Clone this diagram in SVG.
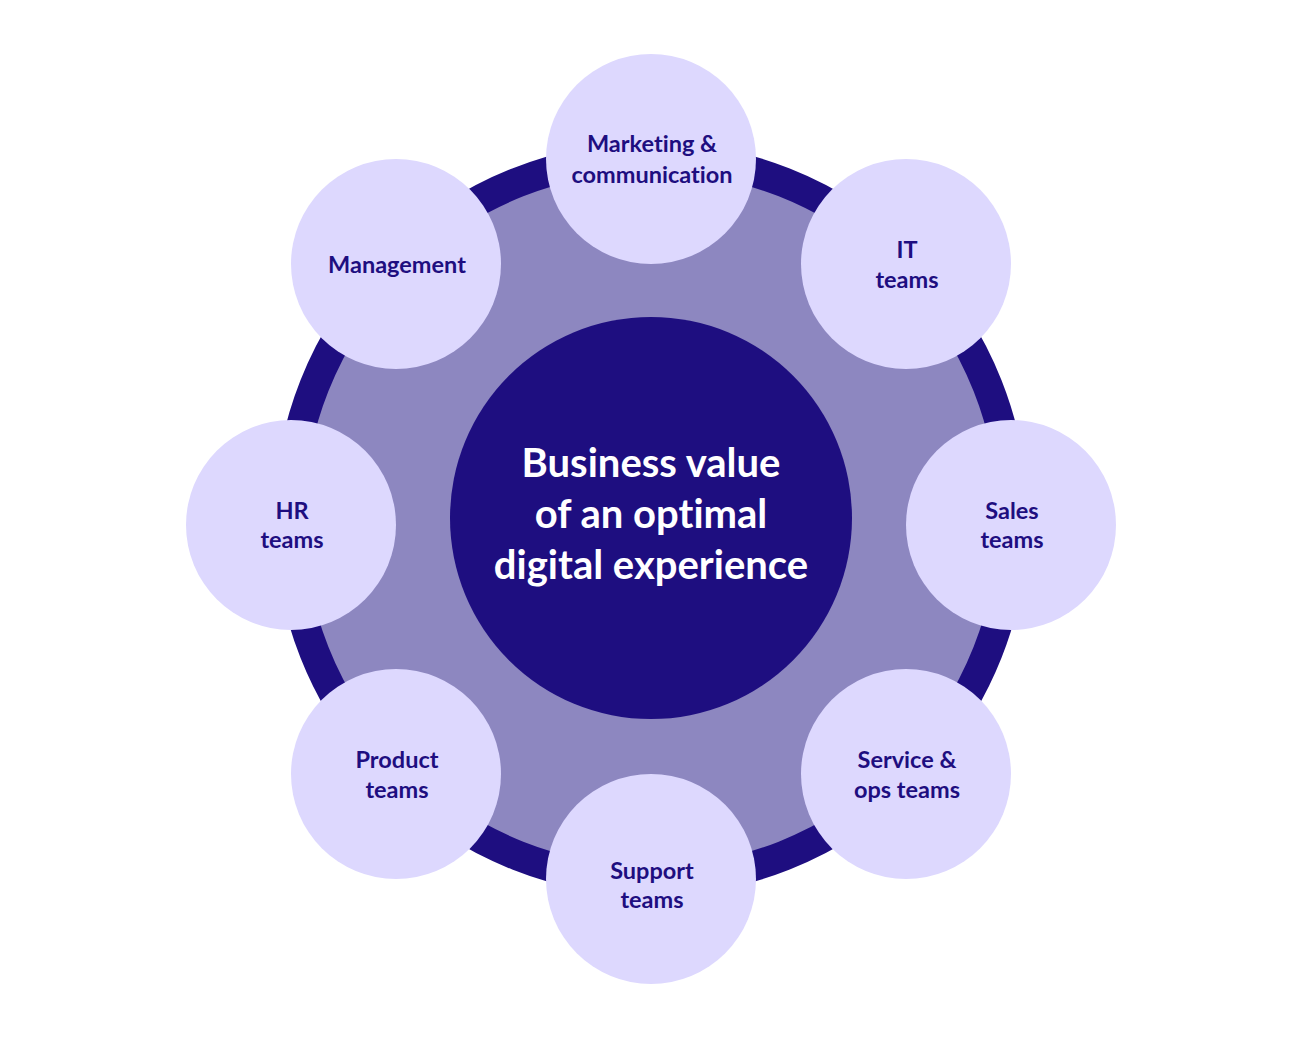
<svg xmlns="http://www.w3.org/2000/svg" width="1305" height="1038" viewBox="0 0 1305 1038">
<style>
.sat{fill:#DDD8FE}
.lbl{font-family:Lato,"Open Sans","Liberation Sans",sans-serif;font-weight:700;font-size:23.5px;fill:#1E0E80;text-anchor:middle;font-variant-ligatures:none}
.ctr{font-family:Lato,"Open Sans","Liberation Sans",sans-serif;font-weight:700;font-size:40px;fill:#FFFFFF;text-anchor:middle;font-variant-ligatures:none}
</style>
<rect width="1305" height="1038" fill="#FFFFFF"/>
<g id="ring">
<circle cx="651" cy="519" r="362" fill="#8D87C0" stroke="#1E0E80" stroke-width="30"/>
</g>
<g id="connectors"></g>
<g id="center">
<circle cx="651" cy="518" r="201" fill="#1E0E80"/>
<text class="ctr" x="651" y="477">Business value</text>
<text class="ctr" x="651" y="528">of an optimal</text>
<text class="ctr" x="651" y="579">digital experience</text>
</g>
<g id="marketing">
<circle class="sat" cx="651" cy="159" r="105"/>
<text class="lbl" x="652" y="152">Marketing &amp;</text>
<text class="lbl" x="652" y="183">communication</text>
</g>
<g id="it">
<circle class="sat" cx="906" cy="264" r="105"/>
<text class="lbl" x="907" y="258">IT</text>
<text class="lbl" x="907" y="288">teams</text>
</g>
<g id="sales">
<circle class="sat" cx="1011" cy="525" r="105"/>
<text class="lbl" x="1012" y="519">Sales</text>
<text class="lbl" x="1012" y="548">teams</text>
</g>
<g id="service">
<circle class="sat" cx="906" cy="774" r="105"/>
<text class="lbl" x="907" y="768">Service &amp;</text>
<text class="lbl" x="907" y="798">ops teams</text>
</g>
<g id="support">
<circle class="sat" cx="651" cy="879" r="105"/>
<text class="lbl" x="652" y="879">Support</text>
<text class="lbl" x="652" y="908">teams</text>
</g>
<g id="product">
<circle class="sat" cx="396" cy="774" r="105"/>
<text class="lbl" x="397" y="768">Product</text>
<text class="lbl" x="397" y="798">teams</text>
</g>
<g id="hr">
<circle class="sat" cx="291" cy="525" r="105"/>
<text class="lbl" x="292" y="519">HR</text>
<text class="lbl" x="292" y="548">teams</text>
</g>
<g id="management">
<circle class="sat" cx="396" cy="264" r="105"/>
<text class="lbl" x="397" y="273">Management</text>
</g>
</svg>
